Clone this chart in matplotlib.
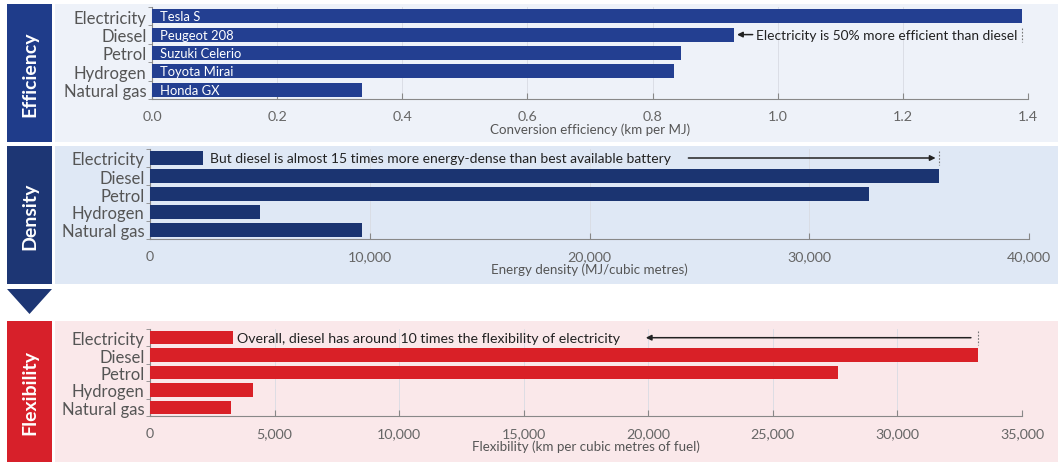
import matplotlib
matplotlib.use("Agg")
import matplotlib.pyplot as plt
from matplotlib.patches import Rectangle, Polygon
from matplotlib.ticker import FuncFormatter

plt.rcParams["font.family"] = ["Lato", "DejaVu Sans"]

# data
fuels = ["Electricity", "Diesel", "Petrol", "Hydrogen", "Natural gas"]
cars = ["Tesla S", "Peugeot 208", "Suzuki Celerio", "Toyota Mirai", "Honda GX"]
efficiency = [1.39, 0.93, 0.845, 0.835, 0.335]
density = [2400, 35900, 32700, 5000, 9650]
flexibility = [3350, 33250, 27600, 4150, 3250]

W, H = 1060, 464
fig = plt.figure(figsize=(W / 100, H / 100), dpi=100)
fig.patch.set_facecolor("white")

# background axes in pixel coordinates (top-left origin)
bg_ax = fig.add_axes([0, 0, 1, 1], zorder=-1)
bg_ax.set_xlim(0, W)
bg_ax.set_ylim(H, 0)
bg_ax.axis("off")


def box(x0, y0, x1, y1):
    # pixel box (top-left origin) -> figure fraction rect
    return [x0 / W, 1 - y1 / H, (x1 - x0) / W, (y1 - y0) / H]


def add_rect(x0, y0, x1, y1, color):
    bg_ax.add_patch(Rectangle((x0, y0), x1 - x0, y1 - y0,
                              facecolor=color, edgecolor="none"))


panels = [
    # name, values, xmax, step, bg, side colour, bar colour, axes px, panel px, label, fmt
    ("Efficiency", efficiency, 1.4, 0.2, "#eef2f9", "#1f3c8a", "#233f91",
     (152, 8, 1028, 100), (5, 143), "Conversion efficiency (km per MJ)", "{:.1f}"),
    ("Density", density, 40000, 10000, "#dfe8f5", "#1d3674", "#1b3471",
     (150, 150, 1029, 240), (147, 285), "Energy density (MJ/cubic metres)", "{:,.0f}"),
    ("Flexibility", flexibility, 35000, 5000, "#fae8ea", "#d7202a", "#d92027",
     (150, 330, 1022, 417), (322, 463), "Flexibility (km per cubic metres of fuel)", "{:,.0f}"),
]

axes = []
for name, vals, xmax, step, bg, side, barc, ax_px, pan_px, xlabel, fmt in panels:
    add_rect(55, pan_px[0], 1058, pan_px[1], bg)
    add_rect(7, pan_px[0], 52, pan_px[1], side)
    bg_ax.text(29.5, (pan_px[0] + pan_px[1]) / 2, name, rotation=90, color="white",
               fontsize=14, fontweight="bold", ha="center", va="center")

    ax = fig.add_axes(box(*ax_px))
    ax.set_facecolor("none")
    y = list(range(len(fuels)))
    ax.barh(y, vals, height=0.76, color=barc, zorder=3)
    ax.set_xlim(0, xmax)
    ax.set_ylim(len(fuels) - 0.5, -0.5)
    ax.set_yticks(y)
    ax.set_yticklabels(fuels, fontsize=12, color="#555555")
    ax.tick_params(axis="y", which="major", length=0, pad=4)
    ax.set_yticks([i - 0.5 for i in range(len(fuels) + 1)], minor=True)
    ax.tick_params(axis="y", which="minor", length=3, color="#888888", direction="out")
    ticks = [i * step for i in range(int(round(xmax / step)) + 1)]
    ax.set_xticks(ticks)
    ax.xaxis.set_major_formatter(FuncFormatter(lambda v, p, f=fmt: f.format(v)))
    ax.tick_params(axis="x", length=4, direction="in", color="#888888",
                   labelsize=10.3, labelcolor="#666666", pad=8)
    ax.set_xlabel(xlabel, fontsize=9.6, color="#555555", labelpad=0)
    ax.grid(axis="x", color="#d8dbe3", linewidth=0.6, zorder=0)
    for s in ["top", "right"]:
        ax.spines[s].set_visible(False)
    for s in ["left", "bottom"]:
        ax.spines[s].set_color("#888888")
        ax.spines[s].set_linewidth(0.8)
    axes.append(ax)

# arrow below the density box
bg_ax.add_patch(Polygon([(7, 290), (52, 290), (29.5, 315)], closed=True,
                        facecolor="#1d3674", edgecolor="none"))

arrow_kw = dict(arrowstyle="-|>", color="#222222", lw=1.1, mutation_scale=8,
                shrinkA=0, shrinkB=0)

# efficiency annotations
ax = axes[0]
for i, car in enumerate(cars):
    ax.text(0.012, i, car, color="white", fontsize=9.4, va="center", zorder=4)
ax.annotate("", xy=(efficiency[1] + 0.005, 1), xytext=(efficiency[1] + 0.03, 1),
            arrowprops=arrow_kw, zorder=5)
ax.text(efficiency[1] + 0.036, 1, "Electricity is 50% more efficient than diesel",
        fontsize=9.9, color="#222222", va="center")
ax.plot([efficiency[0], efficiency[0]], [0.62, 1.38], ls=(0, (1.5, 1.5)),
        color="#777777", lw=0.8)

# density annotations
ax = axes[1]
ax.text(2750, 0, "But diesel is almost 15 times more energy-dense than best available battery",
        fontsize=10, color="#222222", va="center")
ax.annotate("", xy=(density[1] - 150, 0), xytext=(24500, 0), arrowprops=arrow_kw)
ax.plot([density[1], density[1]], [-0.4, 0.4], ls=(0, (1.5, 1.5)),
        color="#777777", lw=0.8)

# flexibility annotations
ax = axes[2]
ax.text(3500, 0, "Overall, diesel has around 10 times the flexibility of electricity",
        fontsize=10.2, color="#222222", va="center")
ax.annotate("", xy=(19900, 0), xytext=(flexibility[1] - 300, 0), arrowprops=arrow_kw)
ax.plot([flexibility[1], flexibility[1]], [-0.4, 0.4], ls=(0, (1.5, 1.5)),
        color="#777777", lw=0.8)

fig.savefig("out.png", dpi=100, facecolor=fig.get_facecolor())
